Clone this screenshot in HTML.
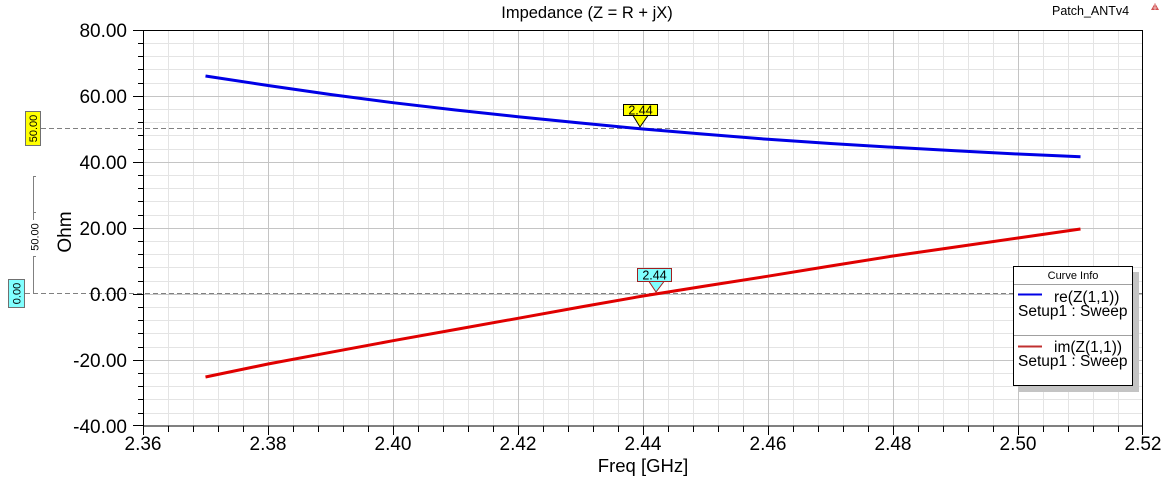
<!DOCTYPE html>
<html>
<head>
<meta charset="utf-8">
<style>
html,body{margin:0;padding:0;background:#fff;}
svg{display:block;}
text{font-family:"Liberation Sans",Arial,sans-serif;}
</style>
</head>
<body>
<svg width="1172" height="477" viewBox="0 0 1172 477" xmlns="http://www.w3.org/2000/svg">
<rect x="0" y="0" width="1172" height="477" fill="#fff"/>
<!-- minor grid -->
<g stroke="#e4e4e4" stroke-width="1" shape-rendering="crispEdges">
<path d="M168.5 30V426M193.5 30V426M218.5 30V426M243.5 30V426M293.5 30V426M318.5 30V426M343.5 30V426M368.5 30V426M418.5 30V426M443.5 30V426M468.5 30V426M493.5 30V426M543.5 30V426M568.5 30V426M593.5 30V426M618.5 30V426M668.5 30V426M693.5 30V426M718.5 30V426M743.5 30V426M793.5 30V426M818.5 30V426M843.5 30V426M868.5 30V426M918.5 30V426M943.5 30V426M968.5 30V426M993.5 30V426M1043.5 30V426M1068.5 30V426M1093.5 30V426M1118.5 30V426"/>
<path d="M143 43.5H1143M143 56.5H1143M143 69.5H1143M143 83.5H1143M143 109.5H1143M143 122.5H1143M143 135.5H1143M143 149.5H1143M143 175.5H1143M143 188.5H1143M143 201.5H1143M143 215.5H1143M143 241.5H1143M143 254.5H1143M143 267.5H1143M143 281.5H1143M143 307.5H1143M143 320.5H1143M143 333.5H1143M143 347.5H1143M143 373.5H1143M143 386.5H1143M143 399.5H1143M143 413.5H1143"/>
</g>
<!-- major grid -->
<g stroke="#c4c4c4" stroke-width="1" shape-rendering="crispEdges">
<path d="M268.5 30V426M393.5 30V426M518.5 30V426M643.5 30V426M768.5 30V426M893.5 30V426M1018.5 30V426"/>
<path d="M143 96.5H1143M143 162.5H1143M143 228.5H1143M143 294.5H1143M143 360.5H1143"/>
</g>
<!-- dashed reference lines -->
<g stroke="#808080" stroke-width="1" stroke-dasharray="5,3" shape-rendering="crispEdges">
<path d="M41 128.5H1143"/>
<path d="M25 293.5H1143"/>
</g>
<!-- axes frame -->
<g stroke="#000" stroke-width="1" shape-rendering="crispEdges" fill="none">
<rect x="143.5" y="30.5" width="999" height="395.5"/>
<!-- y ticks major -->
<path d="M133 30.5H143M133 96.5H143M133 162.5H143M133 228.5H143M133 294.5H143M133 360.5H143M133 425.5H143"/>
<!-- y ticks minor -->
<path d="M138 43.5H143M138 56.5H143M138 69.5H143M138 83.5H143M138 109.5H143M138 122.5H143M138 135.5H143M138 149.5H143M138 175.5H143M138 188.5H143M138 201.5H143M138 215.5H143M138 241.5H143M138 254.5H143M138 267.5H143M138 281.5H143M138 307.5H143M138 320.5H143M138 333.5H143M138 347.5H143M138 373.5H143M138 386.5H143M138 399.5H143M138 413.5H143"/>
<!-- x ticks major -->
<path d="M143.5 426V435M268.5 426V435M393.5 426V435M518.5 426V435M643.5 426V435M768.5 426V435M893.5 426V435M1018.5 426V435M1142.5 426V435"/>
<!-- x ticks minor -->
<path d="M168.5 426V432M193.5 426V432M218.5 426V432M243.5 426V432M293.5 426V432M318.5 426V432M343.5 426V432M368.5 426V432M418.5 426V432M443.5 426V432M468.5 426V432M493.5 426V432M543.5 426V432M568.5 426V432M593.5 426V432M618.5 426V432M668.5 426V432M693.5 426V432M718.5 426V432M743.5 426V432M793.5 426V432M818.5 426V432M843.5 426V432M868.5 426V432M918.5 426V432M943.5 426V432M968.5 426V432M993.5 426V432M1043.5 426V432M1068.5 426V432M1093.5 426V432M1118.5 426V432"/>
</g>
<!-- y labels -->
<g font-size="19" fill="#000" text-anchor="end">
<text x="127" y="37">80.00</text>
<text x="127" y="103">60.00</text>
<text x="127" y="169">40.00</text>
<text x="127" y="235">20.00</text>
<text x="127" y="301">0.00</text>
<text x="127" y="367">-20.00</text>
<text x="127" y="433">-40.00</text>
</g>
<!-- x labels -->
<g font-size="19" fill="#000" text-anchor="middle">
<text x="143" y="450">2.36</text>
<text x="268" y="450">2.38</text>
<text x="393" y="450">2.40</text>
<text x="518" y="450">2.42</text>
<text x="643" y="450">2.44</text>
<text x="768" y="450">2.46</text>
<text x="893" y="450">2.48</text>
<text x="1018" y="450">2.50</text>
<text x="1143" y="450">2.52</text>
</g>
<text x="643" y="472" font-size="18.5" text-anchor="middle">Freq [GHz]</text>
<text transform="translate(71,232) rotate(-90)" font-size="19" text-anchor="middle">Ohm</text>
<text x="587" y="18" font-size="16.5" text-anchor="middle">Impedance (Z = R + jX)</text>
<text x="1052" y="15" font-size="12.5">Patch_ANTv4</text>
<!-- small icon -->
<path d="M1155 3L1159 10H1151Z" fill="#d05050"/>
<path d="M1153 8H1157M1155 4V10" stroke="#fff" stroke-width="0.6"/>
<!-- left markers -->
<rect x="25.5" y="111.5" width="15" height="34" fill="#ffff00" stroke="#707070"/>
<text transform="translate(37,128.5) rotate(-90)" font-size="11" text-anchor="middle">50.00</text>
<rect x="8.5" y="279.5" width="16" height="28" fill="#80ffff" stroke="#707070"/>
<text transform="translate(20.5,293.5) rotate(-90)" font-size="11" text-anchor="middle">0.00</text>
<!-- scale bar -->
<g stroke="#808080" stroke-width="1" shape-rendering="crispEdges">
<path d="M33.5 176V220M33.5 256V293M33.5 176.5H36M33.5 212.5H36M33.5 256.5H36"/>
</g>
<text transform="translate(38.5,237) rotate(-90)" font-size="11" text-anchor="middle">50.00</text>
<!-- curves -->
<polyline fill="none" stroke="#0000e6" stroke-width="3" stroke-linejoin="round" points="205.5,76 268,85.5 330.5,94.5 393,102.7 455.5,110 518,116.7 580.5,123 643,129 705.5,134.3 768,139.3 830.5,143.5 893,147.3 955.5,150.8 1018,154 1080.5,156.7"/>
<polyline fill="none" stroke="#e00000" stroke-width="3" stroke-linejoin="round" points="205.5,377 268,364 330.5,352.3 393,340.7 455.5,329.5 518,318.3 580.5,307 643,296 705.5,286 768,276.2 830.5,266 893,256 955.5,247 1018,238 1080.5,229"/>
<!-- curve markers -->
<path d="M633 115.5L640 127L648 115.5" fill="#ffff00" stroke="#000" stroke-width="1"/>
<rect x="623.5" y="104.5" width="34" height="11" fill="#ffff00" stroke="#000"/>
<text x="640.5" y="114.5" font-size="12.5" text-anchor="middle">2.44</text>
<path d="M649 281.5L656 292L664 281.5" fill="#80ffff" stroke="#a02020" stroke-width="1"/>
<rect x="637.5" y="268.5" width="34" height="13" fill="#80ffff" stroke="#a02020"/>
<text x="654.5" y="279.5" font-size="12.5" text-anchor="middle">2.44</text>
<!-- legend -->
<rect x="1019" y="272" width="120" height="120" fill="#c4c4c4"/>
<rect x="1013.5" y="266.5" width="119" height="119" fill="#fff" stroke="#000"/>
<path d="M1014 284.5H1132M1014 335.5H1132" stroke="#a0a0a0" stroke-width="1" shape-rendering="crispEdges"/>
<text x="1073" y="279" font-size="11" text-anchor="middle">Curve Info</text>
<path d="M1018 294.5H1042" stroke="#0000e6" stroke-width="2"/>
<text x="1054" y="302" font-size="15.5">re(Z(1,1))</text>
<text x="1018" y="316" font-size="15.5">Setup1 : Sweep</text>
<path d="M1018 346.5H1042" stroke="#c03030" stroke-width="2"/>
<text x="1054" y="352" font-size="15.5">im(Z(1,1))</text>
<text x="1018" y="366" font-size="15.5">Setup1 : Sweep</text>
</svg>
</body>
</html>
